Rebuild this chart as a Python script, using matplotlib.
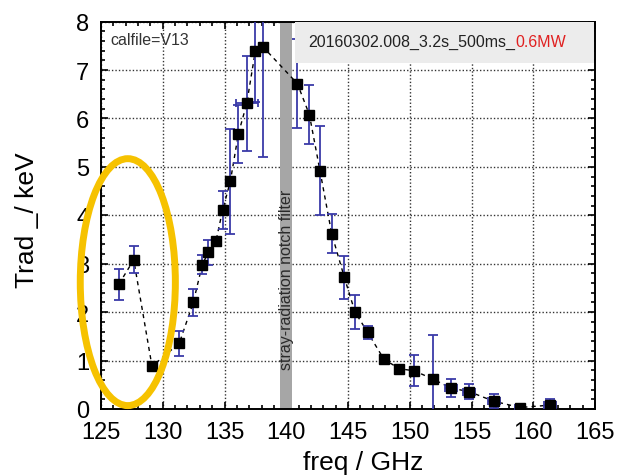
import numpy as np
import matplotlib
matplotlib.use('Agg')
import matplotlib.pyplot as plt
from matplotlib.patches import Ellipse

plt.rcParams['font.family'] = ['Liberation Sans', 'DejaVu Sans']

# measured radiation temperature per ECE channel
freq = [126.45, 127.65, 129.13, 131.34, 132.47, 133.2, 133.7, 134.3, 134.85, 135.47,
        136.12, 136.8, 137.5, 138.15, 140.9, 141.87, 142.73, 143.68, 144.7, 145.57,
        146.6, 147.9, 149.16, 150.35, 151.86, 153.35, 154.8, 156.8, 158.93, 161.38]
trad = [2.58, 3.08, 0.88, 1.36, 2.2, 2.98, 3.24, 3.46, 4.11, 4.7,
        5.68, 6.31, 7.4, 7.47, 6.72, 6.08, 4.92, 3.62, 2.72, 2.0,
        1.58, 1.03, 0.83, 0.79, 0.62, 0.43, 0.36, 0.16, 0.03, 0.08]
trad_err = [0.32, 0.28, 0.1, 0.26, 0.28, 0.2, 0.26, 0.08, 0.4, 1.08,
            0.6, 0.98, 1.06, 2.27, 0.92, 0.61, 0.92, 0.4, 0.45, 0.35,
            0.14, 0.06, 0.05, 0.32, 0.9, 0.19, 0.15, 0.14, 0.04, 0.12]
# channels with a horizontal (bandwidth) error
xerr_freq = [136.8, 153.35, 154.8, 156.8, 158.93, 161.38]
xerr_trad = [6.31, 0.43, 0.36, 0.16, 0.03, 0.08]
xerr_val = [0.9, 0.5, 0.5, 0.5, 0.4, 0.5]

notch_lo, notch_hi = 139.5, 140.5
shot_label = '20160302.008_3.2s_500ms_'
power_label = '0.6MW'

fig = plt.figure(figsize=(6.22, 4.77), dpi=100)
ax = fig.add_axes([0.1624, 0.1405, 0.7942, 0.812])

ax.set_xlim(125, 165)
ax.set_ylim(0, 8)
ax.set_xticks(np.arange(125, 166, 5))
ax.set_yticks(np.arange(0, 9, 1))
ax.set_xticks(np.arange(125, 166, 1), minor=True)
ax.set_yticks(np.arange(0, 8.01, 0.2), minor=True)
ax.tick_params(which='both', direction='in', top=True, right=True, width=1.2)
ax.tick_params(which='major', length=5, labelsize=17)
ax.tick_params(axis='x', which='major', pad=9)
ax.tick_params(axis='y', which='major', pad=8.5)
ax.tick_params(which='minor', length=3)
for s in ax.spines.values():
    s.set_linewidth(1.4)
ax.grid(True, which='major', color='#333333', linestyle=(0, (1, 1.5)), linewidth=1.0)
ax.set_axisbelow(True)

# notch filter band
ax.axvspan(notch_lo, notch_hi, color='#a6a6a6', zorder=1.5, lw=0)
ax.text((notch_lo + notch_hi) / 2, 2.69, 'stray-radiation notch filter', rotation=90,
        ha='center', va='center', fontsize=11.5, color='#2a2a2a', zorder=2)

ax.plot(freq, trad, color='black', linestyle=(0, (3, 3)), linewidth=1.0, zorder=3)
ax.errorbar(freq, trad, yerr=trad_err, fmt='none', ecolor='#3a3aa8', elinewidth=1.3,
            capsize=3.5, capthick=1.3, zorder=4)
ax.errorbar(xerr_freq, xerr_trad, xerr=xerr_val, fmt='none', ecolor='#3a3aa8',
            elinewidth=1.3, capsize=3, capthick=1.3, zorder=4)
ax.plot(freq, trad, linestyle='none', marker='s', markersize=7.5, color='black', zorder=5)

ax.set_xlabel('freq / GHz', fontsize=19, va='top')
ax.xaxis.set_label_coords(0.53, -0.105)
ax.set_ylabel('Trad _/ keV', fontsize=19)
ax.yaxis.set_label_coords(-0.125, 0.49)

ax.text(0.018, 0.955, 'calfile=V13', transform=ax.transAxes, fontsize=11.5,
        color='#333333', ha='left', va='center', zorder=6)

# shot info box along the top
ax.add_patch(plt.Rectangle((0.392, 0.893), 0.606, 0.105, transform=ax.transAxes,
                           facecolor='#ececec', edgecolor='none', zorder=6))
t1 = ax.text(0.42, 0.948, shot_label, transform=ax.transAxes, fontsize=11.5,
             color='#222222', ha='left', va='center', zorder=7)
fig.canvas.draw()
bb = t1.get_window_extent().transformed(ax.transAxes.inverted())
ax.text(bb.x1, 0.948, power_label, transform=ax.transAxes, fontsize=11.5,
        color='#e02020', ha='left', va='center', zorder=7)

# highlight around the low-frequency channels
ax.add_patch(Ellipse((127.17, 2.62), 7.7, 5.1, fill=False, edgecolor='#f6c200',
                     linewidth=5, clip_on=False, zorder=8))

fig.savefig('out.png', dpi=100)
